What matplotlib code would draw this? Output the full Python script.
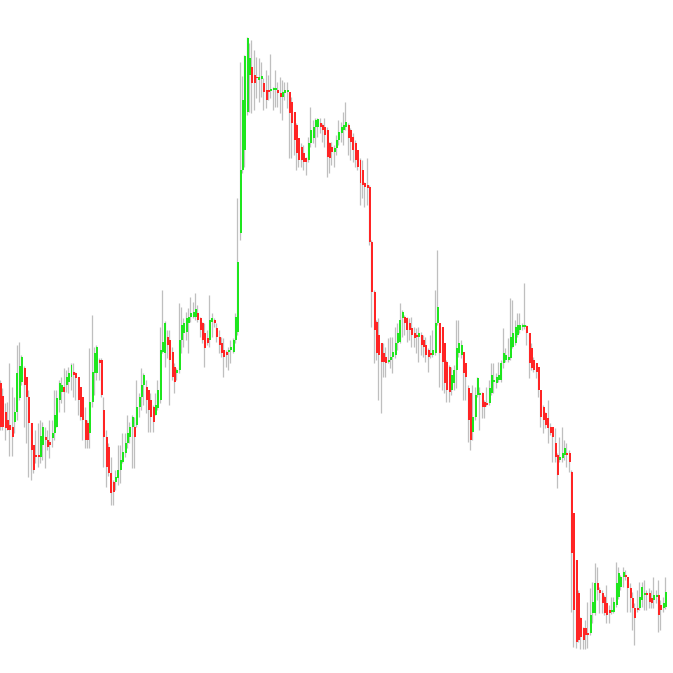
import matplotlib
matplotlib.use("Agg")
import matplotlib.pyplot as plt
import numpy as np

# OHLC (arbitrary price units)
opens = [
    317, 304, 288, 280, 275, 273, 278, 288, 302, 318,
    332, 323, 303, 277, 255, 245, 245, 243, 255, 263,
    260, 258, 262, 267, 273, 300, 308, 313, 315, 318,
    323, 328, 327, 323, 313, 303, 280, 277, 267, 298,
    327, 327, 340, 340, 290, 263, 253, 227, 218, 218,
    222, 230, 238, 247, 257, 263, 273, 273, 275, 293,
    303, 315, 313, 310, 300, 293, 285, 292, 300, 348,
    347, 363, 360, 348, 333, 327, 330, 360, 367, 368,
    377, 383, 383, 383, 387, 382, 377, 367, 362, 360,
    378, 380, 372, 363, 357, 350, 348, 348, 350, 348,
    360, 368, 467, 530, 550, 588, 625, 633, 625, 623,
    620, 621, 617, 610, 610, 609, 610, 610, 610, 607,
    603, 607, 608, 608, 598, 588, 575, 562, 553, 547,
    542, 540, 557, 562, 573, 573, 577, 575, 573, 570,
    557, 553, 548, 552, 560, 567, 570, 573, 575, 570,
    563, 557, 550, 540, 530, 517, 515, 513, 458, 408,
    378, 365, 357, 347, 343, 338, 340, 343, 345, 357,
    358, 382, 383, 382, 377, 372, 367, 365, 363, 365,
    360, 355, 350, 347, 345, 347, 377, 377, 373, 357,
    338, 333, 310, 317, 330, 347, 345, 348, 337, 312,
    307, 268, 283, 305, 305, 307, 298, 297, 297, 307,
    318, 317, 320, 320, 337, 340, 340, 342, 353, 357,
    365, 370, 373, 373, 374, 367, 352, 340, 337, 333,
    310, 293, 287, 282, 273, 273, 257, 245, 240, 242,
    245, 247, 247, 228, 187, 140, 107, 82, 72, 72,
    67, 67, 87, 87, 117, 110, 107, 103, 97, 90,
    88, 88, 95, 103, 113, 123, 125, 123, 112, 102,
    92, 92, 92, 100, 105, 107, 107, 102, 100, 103,
    105, 95, 92, 93,
]
highs = [
    320, 312, 297, 298, 337, 313, 303, 355, 358, 345,
    334, 323, 310, 277, 255, 270, 277, 280, 278, 273,
    270, 280, 280, 310, 310, 320, 323, 332, 330, 333,
    337, 337, 328, 323, 313, 303, 293, 280, 352, 385,
    353, 355, 342, 342, 303, 270, 257, 243, 220, 230,
    255, 255, 267, 267, 285, 278, 285, 283, 320, 307,
    332, 327, 320, 310, 307, 295, 307, 320, 373, 410,
    379, 370, 370, 353, 337, 332, 397, 393, 382, 388,
    392, 403, 398, 407, 395, 383, 378, 377, 370, 405,
    387, 382, 377, 370, 363, 362, 350, 353, 360, 362,
    387, 502, 638, 624, 645, 663, 657, 660, 650, 643,
    642, 638, 622, 630, 625, 646, 613, 630, 618, 623,
    620, 618, 618, 608, 603, 588, 577, 562, 557, 555,
    543, 563, 593, 580, 582, 582, 582, 577, 582, 573,
    558, 558, 555, 565, 580, 578, 588, 598, 577, 572,
    567, 560, 550, 542, 540, 518, 542, 515, 460, 410,
    380, 382, 357, 357, 353, 362, 363, 363, 373, 377,
    397, 390, 385, 383, 382, 383, 373, 372, 373, 368,
    365, 363, 352, 365, 370, 410, 450, 377, 373, 357,
    340, 335, 333, 335, 380, 380, 360, 348, 337, 315,
    307, 315, 313, 323, 313, 308, 300, 313, 320, 337,
    337, 327, 338, 340, 372, 352, 362, 402, 400, 380,
    387, 387, 377, 417, 375, 367, 357, 343, 337, 333,
    310, 295, 288, 300, 277, 273, 272, 247, 263, 273,
    260, 257, 250, 230, 187, 140, 110, 83, 73, 80,
    98, 112, 118, 137, 133, 113, 110, 105, 115, 95,
    103, 103, 138, 133, 125, 133, 130, 123, 117, 108,
    97, 110, 118, 118, 120, 110, 112, 110, 123, 110,
    120, 100, 103, 123,
]
lows = [
    270, 270, 260, 270, 244, 244, 267, 280, 300, 315,
    273, 257, 223, 220, 227, 237, 233, 237, 240, 232,
    250, 242, 253, 260, 273, 288, 297, 288, 308, 307,
    310, 303, 300, 285, 280, 260, 252, 252, 252, 293,
    305, 320, 320, 303, 233, 213, 224, 195, 195, 210,
    215, 217, 237, 243, 252, 257, 232, 232, 273, 283,
    290, 295, 287, 268, 268, 268, 285, 290, 297, 347,
    333, 342, 295, 320, 307, 320, 327, 347, 353, 360,
    347, 378, 382, 380, 378, 363, 357, 333, 355, 353,
    363, 373, 358, 347, 343, 323, 333, 330, 337, 347,
    357, 365, 460, 527, 533, 585, 588, 587, 590, 602,
    598, 603, 590, 592, 600, 602, 590, 593, 593, 587,
    580, 600, 592, 542, 542, 545, 530, 533, 533, 530,
    525, 538, 553, 557, 553, 563, 567, 558, 553, 523,
    527, 535, 533, 545, 555, 558, 555, 570, 545, 540,
    538, 533, 530, 495, 502, 493, 495, 455, 373, 337,
    340, 300, 287, 323, 323, 337, 332, 327, 342, 350,
    357, 363, 365, 358, 360, 353, 353, 347, 338, 345,
    343, 338, 328, 342, 343, 345, 375, 313, 310, 307,
    298, 298, 305, 310, 312, 343, 342, 300, 300, 258,
    250, 260, 280, 303, 270, 282, 282, 294, 295, 305,
    307, 312, 318, 318, 332, 338, 338, 340, 352, 355,
    363, 367, 370, 371, 355, 322, 330, 328, 322, 303,
    273, 267, 272, 257, 265, 238, 238, 212, 238, 238,
    240, 233, 228, 88, 53, 52, 58, 51, 51, 51,
    52, 65, 77, 85, 100, 87, 87, 85, 77, 77,
    86, 87, 93, 101, 110, 113, 120, 88, 88, 70,
    55, 88, 90, 93, 90, 90, 92, 92, 92, 97,
    68, 70, 88, 91,
]
closes = [
    273, 273, 272, 270, 270, 263, 288, 327, 334, 343,
    315, 303, 277, 250, 230, 243, 243, 264, 273, 260,
    253, 255, 267, 285, 302, 317, 315, 308, 323, 327,
    335, 325, 322, 300, 283, 280, 260, 260, 298, 328,
    347, 353, 337, 305, 263, 233, 227, 207, 208, 223,
    230, 240, 248, 257, 267, 273, 283, 263, 293, 303,
    315, 325, 300, 290, 283, 278, 295, 310, 350, 358,
    377, 355, 340, 323, 318, 330, 360, 375, 377, 382,
    383, 387, 388, 391, 380, 370, 360, 352, 357, 380,
    382, 377, 363, 355, 347, 343, 345, 350, 353, 360,
    383, 438, 530, 600, 644, 662, 642, 617, 617, 622,
    623, 624, 608, 600, 608, 611, 612, 612, 607, 603,
    608, 610, 610, 587, 577, 560, 547, 540, 540, 538,
    538, 557, 570, 573, 580, 581, 573, 570, 565, 543,
    542, 548, 552, 560, 568, 573, 575, 578, 562, 558,
    550, 540, 533, 517, 515, 513, 512, 458, 408, 370,
    347, 345, 338, 338, 337, 340, 343, 348, 357, 367,
    380, 388, 377, 370, 370, 365, 362, 363, 367, 355,
    353, 345, 343, 345, 350, 377, 393, 347, 338, 317,
    310, 308, 325, 330, 352, 357, 355, 327, 323, 280,
    260, 283, 305, 322, 307, 293, 293, 295, 312, 325,
    320, 323, 325, 337, 347, 345, 343, 363, 367, 373,
    375, 375, 375, 375, 367, 337, 332, 330, 328, 310,
    283, 280, 275, 272, 267, 263, 243, 225, 243, 247,
    252, 245, 238, 147, 90, 58, 60, 63, 60, 65,
    65, 85, 98, 117, 110, 107, 97, 87, 85, 87,
    90, 98, 117, 127, 123, 128, 123, 112, 102, 92,
    82, 90, 103, 113, 107, 105, 98, 97, 105, 105,
    85, 90, 97, 108,
]

o = np.array(opens, dtype=float)
h = np.array(highs, dtype=float)
l = np.array(lows, dtype=float)
c = np.array(closes, dtype=float)
x = np.arange(len(o))
up = c >= o

fig = plt.figure(figsize=(6.73, 6.73), dpi=100)
ax = fig.add_axes([0, 0, 1, 1])

# wicks: thin grey, just left of the body
ax.vlines(x - 0.4, l, h, color="#bfbfbf", linewidth=0.9, zorder=1)

# bodies drawn over the wicks
bottom = np.minimum(o, c)
height = np.maximum(np.abs(c - o), 1.5)
colors = np.where(up, "#1ee61e", "#ff2424")
ax.bar(x, height, bottom=bottom, width=0.85, color=colors, linewidth=0,
       zorder=3)

ax.set_xlim(-0.43, 286)
ax.set_ylim(27, 700)
ax.axis("off")

fig.savefig("out.png", dpi=100)
